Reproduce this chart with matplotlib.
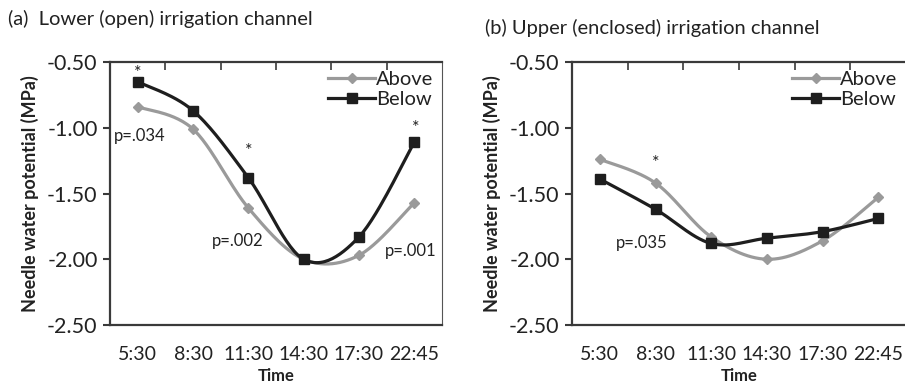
import matplotlib as mpl
import matplotlib.pyplot as plt
from matplotlib.lines import Line2D
import numpy as np

CONST_WIDTH = 905
CONST_HEIGHT = 386
CONST_DPI = 100

mpl.rcParams['font.family'] = ['Lato', 'DejaVu Sans']

# data
times = ['5:30', '8:30', '11:30', '14:30', '17:30', '22:45']
ytick_vals = [-0.5, -1.0, -1.5, -2.0, -2.5]

lower_above = [-0.84, -1.01, -1.61, -2.00, -1.97, -1.57]
lower_below = [-0.65, -0.87, -1.38, -2.00, -1.83, -1.11]
upper_above = [-1.24, -1.42, -1.83, -2.00, -1.86, -1.53]
upper_below = [-1.39, -1.62, -1.88, -1.84, -1.79, -1.69]

GREY = '#9a9a9a'
DARK = '#1e1e1e'
SPINE = '#3a3a3a'
TXT = '#222222'


def smooth(xs, ys, n=30):
    # excel style smoothed line (catmull-rom as bezier)
    pts = np.column_stack([xs, ys]).astype(float)
    out = []
    for i in range(len(pts) - 1):
        p0 = pts[max(i - 1, 0)]
        p1 = pts[i]
        p2 = pts[i + 1]
        p3 = pts[min(i + 2, len(pts) - 1)]
        c1 = p1 + (p2 - p0) / 6.0
        c2 = p2 - (p3 - p1) / 6.0
        t = np.linspace(0, 1, n)[:, None]
        seg = ((1 - t)**3 * p1 + 3 * (1 - t)**2 * t * c1
               + 3 * (1 - t) * t**2 * c2 + t**3 * p2)
        out.append(seg if i == 0 else seg[1:])
    out = np.vstack(out)
    return out[:, 0], out[:, 1]


def draw_panel(ax, above, below, right_spine=True):
    x = np.arange(len(times))

    sx, sy = smooth(x, above)
    ax.plot(sx, sy, color=GREY, lw=2.3, solid_capstyle='round', zorder=2)
    ax.plot(x, above, ls='none', marker='D', ms=5, color=GREY, zorder=3)

    sx, sy = smooth(x, below)
    ax.plot(sx, sy, color=DARK, lw=2.3, solid_capstyle='round', zorder=4)
    ax.plot(x, below, ls='none', marker='s', ms=7.5, color=DARK, zorder=5)

    ax.set_xlim(-0.5, len(times) - 0.5)
    ax.set_ylim(-2.5, -0.5)

    ax.set_yticks(ytick_vals)
    ax.set_yticklabels(['%.2f' % v for v in ytick_vals], fontsize=15.5,
                       color=TXT)
    ax.tick_params(axis='y', direction='out', length=5, width=1.5,
                   color=SPINE, pad=4)

    # category labels at bottom, boundary ticks on top
    ax.set_xticks(x)
    ax.set_xticklabels(times, fontsize=14, color=TXT)
    ax.tick_params(axis='x', length=0, pad=15)
    sec = ax.secondary_xaxis('top')
    sec.set_xticks(np.arange(0.5, len(times) - 1, 1.0))
    sec.set_xticklabels([])
    sec.tick_params(direction='in', length=6, width=1.2, color=SPINE)
    sec.spines['top'].set_visible(False)

    for side in ['left', 'top', 'bottom']:
        ax.spines[side].set_color(SPINE)
        ax.spines[side].set_linewidth(1.6)
    ax.spines['right'].set_visible(right_spine)
    ax.spines['right'].set_color('#555555')
    ax.spines['right'].set_linewidth(0.8)

    ax.set_ylabel('Needle water potential (MPa)', fontsize=13,
                  fontweight='bold', labelpad=6, color=TXT)
    ax.set_xlabel('Time', fontsize=12, fontweight='bold', labelpad=4,
                  color=TXT)

    handles = [Line2D([], [], color=GREY, lw=2.3, marker='D', ms=5),
               Line2D([], [], color=DARK, lw=2.3, marker='s', ms=7.5)]
    ax.legend(handles, ['Above', 'Below'], loc='upper right', frameon=False,
              fontsize=14.5, handlelength=2.3, handletextpad=0.05,
              labelspacing=0.12, borderaxespad=0.3, borderpad=0.15,
              labelcolor=TXT)


fig = plt.figure(figsize=(CONST_WIDTH / CONST_DPI, CONST_HEIGHT / CONST_DPI),
                 dpi=CONST_DPI)

ax1 = fig.add_axes([110 / 905, 1 - 325 / 386, 332 / 905, 263 / 386])
draw_panel(ax1, lower_above, lower_below, right_spine=True)
ax1.text(0, -0.585, '*', ha='center', va='center', fontsize=13, color=TXT)
ax1.text(0.04, -1.06, 'p=.034', ha='center', va='center', fontsize=12,
         color=TXT)
ax1.text(2, -1.18, '*', ha='center', va='center', fontsize=13, color=TXT)
ax1.text(1.81, -1.86, 'p=.002', ha='center', va='center', fontsize=12,
         color=TXT)
ax1.text(5.03, -1.0, '*', ha='center', va='center', fontsize=13, color=TXT)
ax1.text(4.94, -1.94, 'p=.001', ha='center', va='center', fontsize=12,
         color=TXT)

ax2 = fig.add_axes([572 / 905, 1 - 325 / 386, 334 / 905, 263 / 386])
draw_panel(ax2, upper_above, upper_below, right_spine=False)
ax2.text(1.01, -1.27, '*', ha='center', va='center', fontsize=13, color=TXT)
ax2.text(0.76, -1.88, 'p=.035', ha='center', va='center', fontsize=12,
         color=TXT)

fig.text(8 / 905, 1 - 19 / 386, '(a)  Lower (open) irrigation channel',
         ha='left', va='center', fontsize=14.5, color=TXT)
fig.text(485 / 905, 1 - 28 / 386, '(b) Upper (enclosed) irrigation channel',
         ha='left', va='center', fontsize=14.5, color=TXT)

fig.savefig('out.png', dpi=CONST_DPI)
